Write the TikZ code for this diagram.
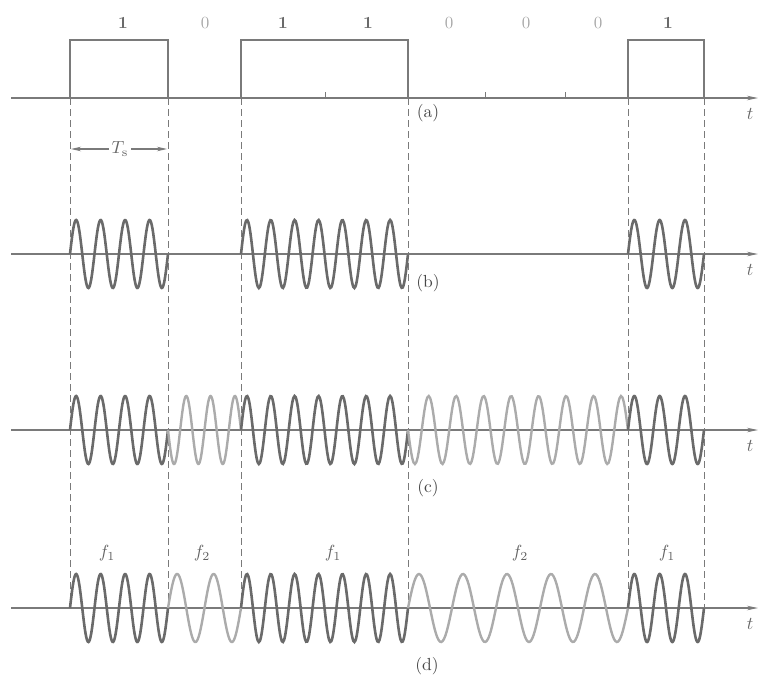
\documentclass[tikz,border=0pt]{standalone}
\usetikzlibrary{arrows.meta}
\definecolor{axisgray}{HTML}{7A7A7A}
\definecolor{darkwave}{HTML}{6A6A6A}
\definecolor{lightwave}{HTML}{ABABAB}
\definecolor{zerogray}{HTML}{A8A8A8}
\tikzset{
  axisline/.style={axisgray, line width=1.4pt, -{Stealth[length=11pt,width=4.5pt]}},
  boxline/.style={axisgray, line width=1.8pt},
  guide/.style={axisgray, line width=0.8pt, dash pattern=on 7pt off 4pt},
  dk/.style={darkwave, line width=2.6pt},
  lt/.style={lightwave, line width=2.4pt},
  lbl/.style={text=black!72, scale=1.75, inner sep=1pt},
  tlbl/.style={text=black!60, scale=1.8, inner sep=1pt},
  tslbl/.style={text=black!60, scale=1.75, inner sep=1.5pt},
  onebit/.style={text=darkwave, font=\bfseries, scale=1.7, inner sep=1pt},
  zerobit/.style={text=zerogray, scale=1.7, inner sep=1pt},
  flbl/.style={text=black!62, scale=1.75, inner sep=1pt},
}
\begin{document}
\begin{tikzpicture}[x=1pt,y=-1pt]
\useasboundingbox (0,0) rectangle (760,675);
% axes
\foreach \nm/\yy in {a/98,b/254,c/430,d/608}{
  \coordinate (s\nm) at (11,\yy);
  \coordinate (e\nm) at (758,\yy);
  \draw[axisline] (s\nm) -- (e\nm);
  \node[tlbl] (t\nm) at (750,\yy+16) {$t$};
}
% dashed guides
\foreach \xx [count=\i] in {70,168,241,408,628,704}{
  \coordinate (gt\i) at (\xx,98);
  \coordinate (gb\i) at (\xx,608);
  \draw[guide] (gt\i) -- (gb\i);
}
% ticks
\foreach \xx [count=\i] in {325,485,565}{
  \coordinate (tk\i) at (\xx,98);
  \coordinate (tu\i) at (\xx,92);
  \draw[axisgray, line width=1pt] (tk\i) -- (tu\i);
}
% rectangular pulses (a)
\coordinate (p1a) at (70,98);  \coordinate (p1b) at (70,40);  \coordinate (p1c) at (168,40);  \coordinate (p1d) at (168,98);
\coordinate (p2a) at (241,98); \coordinate (p2b) at (241,40); \coordinate (p2c) at (408,40);  \coordinate (p2d) at (408,98);
\coordinate (p3a) at (628,98); \coordinate (p3b) at (628,40); \coordinate (p3c) at (704,40);  \coordinate (p3d) at (704,98);
\draw[boxline] (p1a) -- (p1b) -- (p1c) -- (p1d);
\draw[boxline] (p2a) -- (p2b) -- (p2c) -- (p2d);
\draw[boxline] (p3a) -- (p3b) -- (p3c) -- (p3d);
% bits
\node[onebit] (b1) at (123,23) {1};
\node[zerobit] (b2) at (205,23) {0};
\node[onebit] (b3) at (283,23) {1};
\node[onebit] (b4) at (368,23) {1};
\node[zerobit] (b5) at (449,23) {0};
\node[zerobit] (b6) at (526,23) {0};
\node[zerobit] (b7) at (598,23) {0};
\node[onebit] (b8) at (668,23) {1};
% Ts
\node[tslbl] (ts) at (120,149) {$T_{\mathrm{s}}$};
\coordinate (tsl) at (71,149);
\coordinate (tsr) at (167,149);
\draw[axisgray, line width=1.2pt, -{Stealth[length=10pt,width=4.5pt]}] (ts.west) -- (tsl);
\draw[axisgray, line width=1.2pt, -{Stealth[length=10pt,width=4.5pt]}] (ts.east) -- (tsr);
% panel labels
\node[lbl] (la) at (428,113) {(a)};
\node[lbl] (lb) at (428,283) {(b)};
\node[lbl] (lc) at (428,488) {(c)};
\node[lbl] (ld) at (427,666) {(d)};
% waves
\foreach \xa/\xb/\nn/\sg/\st/\yy in {
  70/168/4/1/dk/254, 241/408/7/1/dk/254, 628/704/3/1/dk/254,
  70/168/4/1/dk/430, 168/241/3/-1/lt/430, 241/408/7/1/dk/430, 408/628/8/-1/lt/430, 628/704/3/1/dk/430,
  70/168/4/1/dk/608, 168/241/2/1/lt/608, 241/408/7/1/dk/608, 408/628/5/1/lt/608, 628/704/3/1/dk/608}{
  \draw[\st] plot[domain=0:1, samples=160, smooth] ({\xa+(\xb-\xa)*\x},{\yy-(\sg)*34*sin(360*\nn*\x)});
}
% frequency labels
\node[flbl] (f1) at (107,553) {$f_1$};
\node[flbl] (f2) at (202,553) {$f_2$};
\node[flbl] (f3) at (333,553) {$f_1$};
\node[flbl] (f4) at (520,553) {$f_2$};
\node[flbl] (f5) at (667,553) {$f_1$};
\end{tikzpicture}
\end{document}
